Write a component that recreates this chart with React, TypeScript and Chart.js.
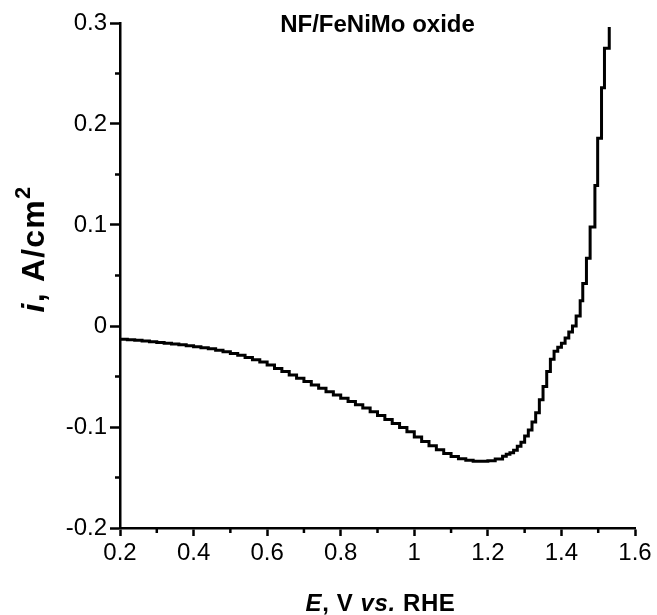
import React, { useEffect, useRef } from 'react';
import { Chart, registerables } from 'chart.js';

Chart.register(...registerables);

// Potential E (V vs. RHE)
const potentialV: number[] = [
  0.20, 0.22, 0.24, 0.26, 0.28, 0.30, 0.32, 0.34, 0.36, 0.38,
  0.40, 0.42, 0.44, 0.46, 0.48, 0.50, 0.52, 0.54, 0.56, 0.58,
  0.60, 0.62, 0.64, 0.66, 0.68, 0.70, 0.72, 0.74, 0.76, 0.78,
  0.80, 0.82, 0.84, 0.86, 0.88, 0.90, 0.92, 0.94, 0.96, 0.98,
  1.00, 1.02, 1.04, 1.06, 1.08, 1.10, 1.12, 1.14, 1.16, 1.18,
  1.20, 1.22, 1.24,
  1.25, 1.26, 1.27, 1.28, 1.29, 1.30, 1.31, 1.32, 1.33, 1.34,
  1.35, 1.36, 1.37, 1.38, 1.39, 1.40, 1.41, 1.42, 1.43, 1.44,
  1.451, 1.458, 1.468, 1.478, 1.491, 1.4985, 1.509, 1.517, 1.530,
];

// Current density i (A/cm^2)
const currentA: number[] = [
  -0.0130, -0.0135, -0.0141, -0.0148, -0.0156, -0.0164, -0.0171, -0.0178, -0.0186, -0.0195,
  -0.0205, -0.0215, -0.0226, -0.0240, -0.0255, -0.0272, -0.0290, -0.0312, -0.0333, -0.0356,
  -0.0385, -0.0420, -0.0450, -0.0485, -0.0518, -0.0550, -0.0583, -0.0617, -0.0650, -0.0683,
  -0.0716, -0.0748, -0.0780, -0.0813, -0.0848, -0.0885, -0.0925, -0.0965, -0.1005, -0.1048,
  -0.1098, -0.1143, -0.1185, -0.1225, -0.1262, -0.1292, -0.1315, -0.1330, -0.1338, -0.1340,
  -0.1333, -0.1316, -0.1290,
  -0.1270, -0.1255, -0.1230, -0.1190, -0.1150, -0.1090, -0.1030, -0.0950, -0.0860, -0.0730,
  -0.0600, -0.0450, -0.0330, -0.0250, -0.0210, -0.0170, -0.0120, -0.0060, 0.0000, 0.0100,
  0.025, 0.042, 0.067, 0.098, 0.139, 0.186, 0.236, 0.275, 0.296,
];

const xMajorTicks: number[] = [0.2, 0.4, 0.6, 0.8, 1.0, 1.2, 1.4, 1.6];
const xMinorTicks: number[] = [0.3, 0.5, 0.7, 0.9, 1.1, 1.3, 1.5];
const yMajorTicks: number[] = [-0.2, -0.1, 0, 0.1, 0.2, 0.3];
const yMinorTicks: number[] = [-0.15, -0.05, 0.05, 0.15, 0.25];

const chartTitle = 'NF/FeNiMo oxide';
const xTitleParts = [
  { text: 'E', italic: true },
  { text: ', V ', italic: false },
  { text: 'vs.', italic: true },
  { text: ' RHE', italic: false },
];
const yTitleParts = [
  { text: 'i', italic: true, sup: false },
  { text: ', A/cm', italic: false, sup: false },
  { text: '2', italic: false, sup: true },
];

const FONT = '"Liberation Sans", Arial, Helvetica, sans-serif';

type Part = { text: string; italic: boolean; sup?: boolean };

function drawRich(
  ctx: CanvasRenderingContext2D,
  parts: Part[],
  cx: number,
  baseline: number,
  size: number,
  supSize: number,
  supRise: number,
  spacing: number,
) {
  const fontFor = (p: Part) => `${p.italic ? 'italic ' : ''}bold ${p.sup ? supSize : size}px ${FONT}`;
  (ctx as any).letterSpacing = `${spacing}px`;
  let total = 0;
  const widths = parts.map((p) => {
    ctx.font = fontFor(p);
    const w = ctx.measureText(p.text).width;
    total += w;
    return w;
  });
  let x = cx - total / 2;
  ctx.textAlign = 'left';
  ctx.textBaseline = 'alphabetic';
  parts.forEach((p, i) => {
    ctx.font = fontFor(p);
    ctx.fillText(p.text, x, p.sup ? baseline - supRise : baseline);
    x += widths[i];
  });
  (ctx as any).letterSpacing = '0px';
}

const decorPlugin = {
  id: 'decor',
  afterDraw(chart: any) {
    const { ctx, chartArea, scales } = chart;
    const xs = scales.x;
    const ys = scales.y;
    ctx.save();
    ctx.strokeStyle = '#000';
    ctx.lineWidth = 2.5;
    xMinorTicks.forEach((v) => {
      const px = xs.getPixelForValue(v);
      ctx.beginPath();
      ctx.moveTo(px, chartArea.bottom);
      ctx.lineTo(px, chartArea.bottom + 5);
      ctx.stroke();
    });
    yMinorTicks.forEach((v) => {
      const py = ys.getPixelForValue(v);
      ctx.beginPath();
      ctx.moveTo(chartArea.left - 5, py);
      ctx.lineTo(chartArea.left, py);
      ctx.stroke();
    });
    ctx.fillStyle = '#000';
    const cx = (chartArea.left + chartArea.right) / 2;
    ctx.font = `bold 24px ${FONT}`;
    ctx.textAlign = 'center';
    ctx.textBaseline = 'alphabetic';
    ctx.fillText(chartTitle, cx, 32);
    drawRich(ctx, xTitleParts, cx + 3, 611, 24, 17, 10, 0.6);
    ctx.translate(44, 249);
    ctx.rotate(-Math.PI / 2);
    drawRich(ctx, yTitleParts, 0, 0, 32, 22, 14, 1.2);
    ctx.restore();
  },
};

const fmt = (v: number) => String(Number(v.toFixed(2)));

export default function App() {
  const ref = useRef<HTMLCanvasElement | null>(null);
  useEffect(() => {
    document.body.style.margin = '0';
    const canvas = ref.current;
    if (!canvas) return;
    const chart = new Chart(canvas, {
      type: 'line',
      data: {
        datasets: [
          {
            data: potentialV.map((x, i) => ({ x, y: currentA[i] })),
            borderColor: '#000',
            borderWidth: 3,
            pointRadius: 0,
            stepped: true,
            fill: false,
          },
        ],
      },
      options: {
        responsive: false,
        animation: false,
        devicePixelRatio: 1,
        layout: { padding: { top: 23, right: 22, left: 0, bottom: 0 } },
        plugins: { legend: { display: false }, tooltip: { enabled: false }, title: { display: false } },
        scales: {
          x: {
            type: 'linear',
            min: 0.2,
            max: 1.6,
            afterBuildTicks: (scale: any) => {
              scale.ticks = xMajorTicks.map((value) => ({ value }));
            },
            afterFit: (scale: any) => {
              scale.height = 87;
            },
            ticks: {
              callback: (v: any) => fmt(Number(v)),
              color: '#000',
              font: { family: FONT, size: 24 },
              padding: 3,
              maxRotation: 0,
              autoSkip: false,
            },
            grid: {
              display: true,
              drawOnChartArea: false,
              drawTicks: true,
              tickLength: 8,
              tickWidth: 2.5,
              tickColor: '#000',
            },
            border: { display: true, color: '#000', width: 2.5 },
          },
          y: {
            type: 'linear',
            min: -0.2,
            max: 0.3,
            afterBuildTicks: (scale: any) => {
              scale.ticks = yMajorTicks.map((value) => ({ value }));
            },
            afterFit: (scale: any) => {
              scale.width = 120;
            },
            ticks: {
              callback: (v: any) => fmt(Number(v)),
              color: '#000',
              font: { family: FONT, size: 24 },
              padding: 3,
              autoSkip: false,
            },
            grid: {
              display: true,
              drawOnChartArea: false,
              drawTicks: true,
              tickLength: 10,
              tickWidth: 2.5,
              tickColor: '#000',
            },
            border: { display: true, color: '#000', width: 2.5 },
          },
        },
      },
      plugins: [decorPlugin],
    });
    return () => chart.destroy();
  }, []);
  return (
    <div style={{ width: 657, height: 615 }}>
      <canvas ref={ref} width={657} height={615} />
    </div>
  );
}
